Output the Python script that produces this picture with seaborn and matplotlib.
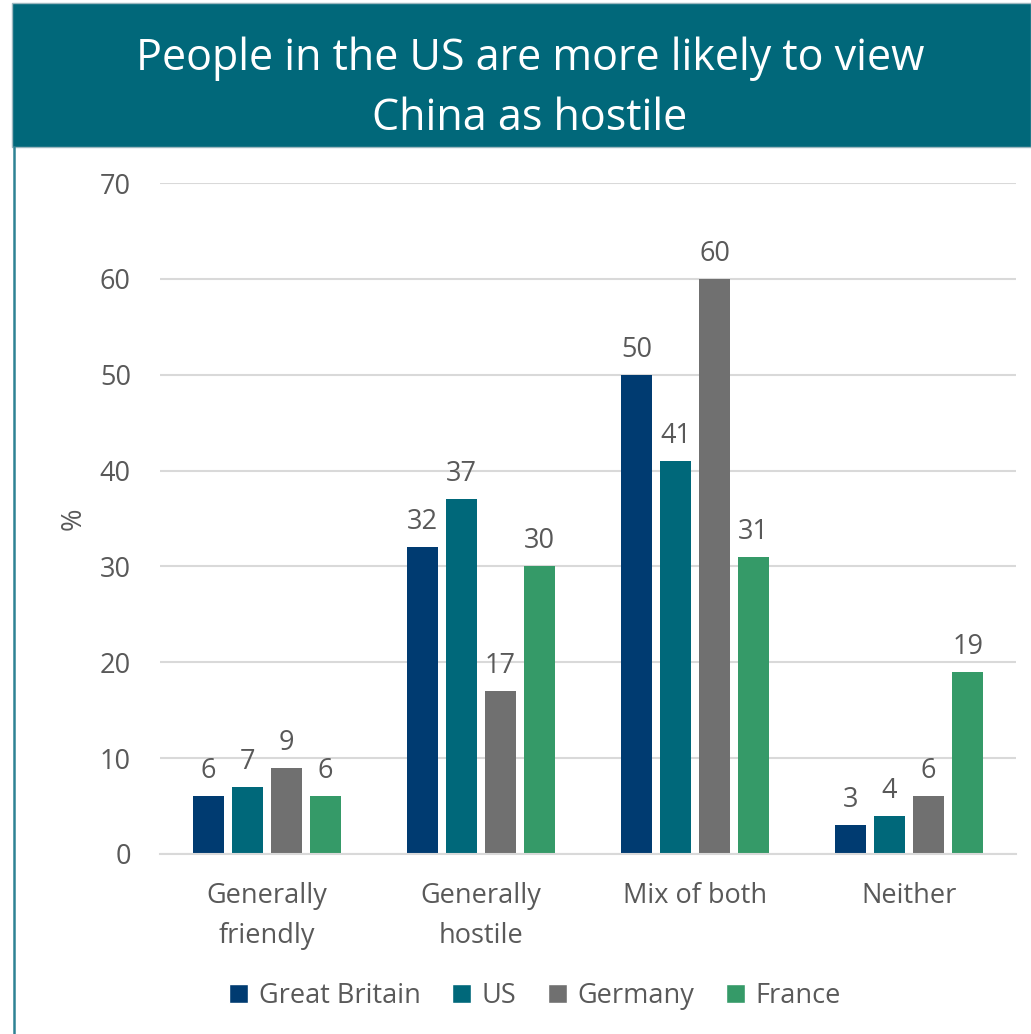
import matplotlib
matplotlib.use("Agg")
import matplotlib.pyplot as plt
from matplotlib.patches import Rectangle
from matplotlib.lines import Line2D
import seaborn as sns
import pandas as pd

# Survey responses: how people view China (%)
categories = ["Generally\nfriendly", "Generally\nhostile", "Mix of both", "Neither"]
countries = ["Great Britain", "US", "Germany", "France"]
great_britain = [6, 32, 50, 3]
us = [7, 37, 41, 4]
germany = [9, 17, 60, 6]
france = [6, 30, 31, 19]

colors = ["#003B71", "#00687A", "#707070", "#359A68"]
text_color = "#595959"
banner_color = "#01687A"

rows = []
for country, vals in zip(countries, [great_britain, us, germany, france]):
    for cat, v in zip(categories, vals):
        rows.append({"category": cat, "country": country, "value": v})
df = pd.DataFrame(rows)

sns.set_theme(style="white")
plt.rcParams["font.family"] = ["Open Sans", "DejaVu Sans"]

W, H = 1031, 1034
fig = plt.figure(figsize=(W / 100, H / 100), dpi=100)
fig.patch.set_facecolor("white")

ax = fig.add_axes([160 / W, 1 - 854 / H, (1016 - 160) / W, (854 - 183) / H])
sns.barplot(data=df, x="category", y="value", hue="country", order=categories,
            hue_order=countries, palette=colors, width=0.73, gap=0.22,
            saturation=1, errorbar=None, legend=False, linewidth=0, ax=ax)

ax.set_ylim(0, 70)
ax.set_xlim(-0.5, 3.5)
ax.set_yticks(range(0, 71, 10))
ax.yaxis.grid(True, color="#D9D9D9", linewidth=1.5)
ax.set_axisbelow(True)
for side in ["top", "right", "left"]:
    ax.spines[side].set_visible(False)
ax.spines["bottom"].set_color("#D9D9D9")
ax.spines["bottom"].set_linewidth(1.5)
ax.tick_params(axis="y", length=0, pad=21, labelsize=19.5, labelcolor=text_color)
ax.tick_params(axis="x", length=0, pad=20, labelsize=19.5, labelcolor=text_color)
for lbl in ax.get_xticklabels():
    lbl.set_linespacing(1.6)
ax.set_xlabel("")
ax.set_ylabel("%", fontsize=19.5, color=text_color)
ax.yaxis.set_label_coords(-0.085, 0.5)

for container in ax.containers:
    ax.bar_label(container, fmt="%d", padding=8, fontsize=19.5, color=text_color)

# Title banner and left frame rule
fig.add_artist(Rectangle((12 / W, 1 - 147 / H), 1 - 12 / W, 144 / H,
                         transform=fig.transFigure, facecolor=banner_color,
                         edgecolor="#9DB8C0", linewidth=1))
fig.add_artist(Line2D([13.5 / W, 13.5 / W], [0, 1 - 147 / H],
                      transform=fig.transFigure, color="#2E8294", linewidth=1.8))
fig.text(530 / W, 1 - 89 / H, "People in the US are more likely to view\nChina as hostile",
         ha="center", va="center", fontsize=31, color="white", linespacing=1.45)

# Legend
handles = [Rectangle((0, 0), 1, 1, facecolor=c) for c in colors]
fig.legend(handles, countries, loc="center", bbox_to_anchor=(535 / W, 1 - 996 / H),
           ncol=4, frameon=False, fontsize=19.5, labelcolor=text_color,
           handlelength=0.7, handleheight=0.7, handletextpad=0.4, columnspacing=1.15)

fig.savefig("out.png", dpi=100, facecolor="white")
